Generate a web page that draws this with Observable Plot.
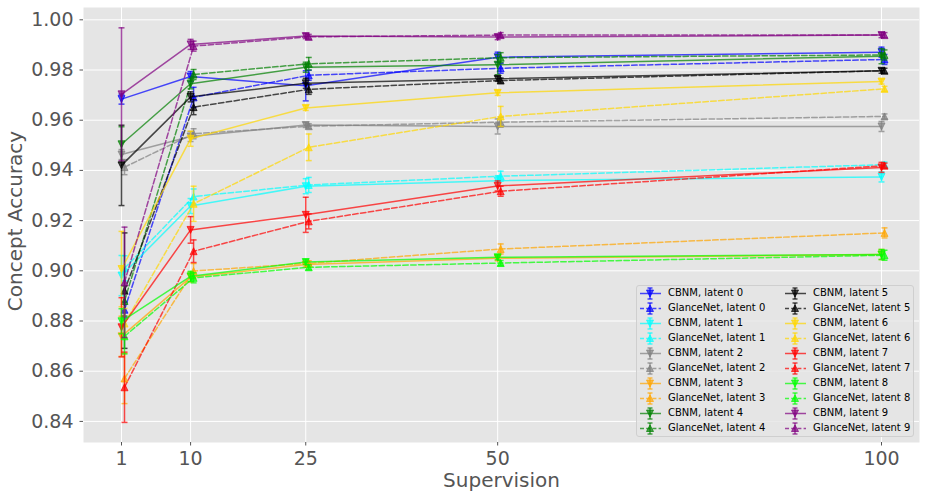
<!DOCTYPE html>
<html><head><meta charset="utf-8">
<script src="https://cdn.jsdelivr.net/npm/d3@7"></script>
<script src="https://cdn.jsdelivr.net/npm/@observablehq/plot@0.6"></script>
<style>
body{margin:0;background:#fff;font-family:"DejaVu Sans",sans-serif;}
#wrap{position:relative;width:926px;height:498px;}
#legend{position:absolute;left:636px;top:285px;width:278px;height:152px;background:rgba(229,229,229,0.8);border:1px solid #cfcfcf;border-radius:3px;box-sizing:border-box;font-size:10px;color:#000;}
.item{position:absolute;height:14px;line-height:14px;white-space:nowrap;}
.item svg{position:absolute;left:0;top:0;}
.item span{position:absolute;top:0;}
</style></head><body><div id="wrap"><div id="legend"></div></div>
<script>
// ---- data ----
const supervision = [1, 10, 25, 50, 100];
const yTicks = [0.84, 0.86, 0.88, 0.90, 0.92, 0.94, 0.96, 0.98, 1.00];
const models = ["CBNM", "GlanceNet"];
const latents = ["latent 0","latent 1","latent 2","latent 3","latent 4","latent 5","latent 6","latent 7","latent 8","latent 9"];
const colors = ["blue","cyan","gray","orange","green","black","gold","red","lime","purple"];

const cbnmAcc = [
  [0.9684, 0.9774, 0.9737, 0.9851, 0.9871],
  [0.8981, 0.9258, 0.9337, 0.9359, 0.9374],
  [0.9463, 0.9535, 0.9581, 0.9575, 0.9575],
  [0.8739, 0.8975, 0.9025, 0.9050, 0.9065],
  [0.9504, 0.9745, 0.9811, 0.9821, 0.9855],
  [0.9420, 0.9693, 0.9747, 0.9765, 0.9797],
  [0.9007, 0.9526, 0.9649, 0.9709, 0.9754],
  [0.8775, 0.9163, 0.9223, 0.9338, 0.9412],
  [0.8799, 0.8978, 0.9035, 0.9054, 0.9065],
  [0.9703, 0.9902, 0.9935, 0.9931, 0.9939]
];
const cbnmErr = [
  [0.002, 0.002, 0.006, 0.002, 0.002],
  [0.008, 0.003, 0.003, 0.002, 0.002],
  [0.002, 0.002, 0.001, 0.003, 0.002],
  [0.008, 0.002, 0.001, 0.001, 0.002],
  [0.007, 0.002, 0.002, 0.004, 0.003],
  [0.016, 0.002, 0.002, 0.001, 0.001],
  [0.015, 0.003, 0.001, 0.001, 0.001],
  [0.0118, 0.0053, 0.007, 0.002, 0.002],
  [0.005, 0.002, 0.001, 0.001, 0.002],
  [0.0265, 0.002, 0.001, 0.001, 0.001]
];
const glanceAcc = [
  [0.8845, 0.9691, 0.9779, 0.9807, 0.9842],
  [0.9010, 0.9296, 0.9342, 0.9377, 0.9423],
  [0.9413, 0.9546, 0.9576, 0.9592, 0.9615],
  [0.8571, 0.8999, 0.9030, 0.9087, 0.9151],
  [0.8880, 0.9782, 0.9825, 0.9849, 0.9860],
  [0.8921, 0.9652, 0.9723, 0.9758, 0.9797],
  [0.8790, 0.9267, 0.9492, 0.9615, 0.9725],
  [0.8536, 0.9078, 0.9197, 0.9317, 0.9419],
  [0.8739, 0.8972, 0.9014, 0.9031, 0.9062],
  [0.8954, 0.9895, 0.9932, 0.9939, 0.9939]
];
const glanceErr = [
  [0.003, 0.004, 0.002, 0.002, 0.002],
  [0.005, 0.003, 0.003, 0.002, 0.001],
  [0.003, 0.002, 0.001, 0.002, 0.001],
  [0.010, 0.003, 0.001, 0.002, 0.002],
  [0.006, 0.002, 0.0025, 0.002, 0.002],
  [0.023, 0.003, 0.002, 0.001, 0.001],
  [0.006, 0.007, 0.0053, 0.004, 0.001],
  [0.014, 0.0045, 0.003, 0.002, 0.001],
  [0.007, 0.002, 0.001, 0.001, 0.002],
  [0.022, 0.002, 0.001, 0.001, 0.001]
];

// ---- symbols ----
const triDown = {draw(ctx, size){ const r = Math.sqrt(size/Math.PI); ctx.moveTo(0, r); ctx.lineTo(-r, -r); ctx.lineTo(r, -r); ctx.closePath(); }};
const triUp = {draw(ctx, size){ const r = Math.sqrt(size/Math.PI); ctx.moveTo(0, -r); ctx.lineTo(-r, r); ctx.lineTo(r, r); ctx.closePath(); }};
const cap = {draw(ctx, size){ const r = Math.sqrt(size/Math.PI); ctx.moveTo(-r, 0); ctx.lineTo(r, 0); }};

const alpha = 0.7;
const marks = [
  Plot.frame({fill: "#E5E5E5"}),
  Plot.ruleX(supervision, {stroke: "white", strokeWidth: 1}),
  Plot.ruleY(yTicks, {stroke: "white", strokeWidth: 1}),
  Plot.axisX(supervision, {tickSize: 3.5, tickPadding: 5, fontSize: 19, stroke: "#555", fill: "#555", label: null}),
  Plot.axisY(yTicks, {tickSize: 3.5, tickPadding: 6.5, fontSize: 19, stroke: "#555", fill: "#555", tickFormat: d3.format(".2f"), label: null}),
  Plot.text(["Concept Accuracy"], {frameAnchor: "left", textAnchor: "middle", rotate: -90, dx: -68, dy: -4, fontSize: 20, fill: "#555"}),
  Plot.text(["Supervision"], {frameAnchor: "bottom", dy: 38, fontSize: 20, fill: "#555", lineAnchor: "middle"})
];

for (let i = 0; i < latents.length; i++) {
  for (const model of models) {
    const acc = model === "CBNM" ? cbnmAcc[i] : glanceAcc[i];
    const err = model === "CBNM" ? cbnmErr[i] : glanceErr[i];
    const d = supervision.map((x, j) => ({x, y: acc[j], e: err[j]}));
    const dx = model === "GlanceNet" ? 3 : 0;
    const c = colors[i];
    marks.push(
      Plot.ruleX(d, {x: "x", y1: r => r.y - r.e, y2: r => r.y + r.e, stroke: c, strokeOpacity: alpha, strokeWidth: 1.5, dx}),
      Plot.dot(d, {x: "x", y: r => r.y + r.e, symbol: cap, r: 3, stroke: c, fill: "none", strokeOpacity: alpha, strokeWidth: 1.5, dx}),
      Plot.dot(d, {x: "x", y: r => r.y - r.e, symbol: cap, r: 3, stroke: c, fill: "none", strokeOpacity: alpha, strokeWidth: 1.5, dx}),
      Plot.line(d, {x: "x", y: "y", stroke: c, strokeOpacity: alpha, strokeWidth: 1.5, strokeDasharray: model === "GlanceNet" ? "5.5,2.4" : "none", dx}),
      Plot.dot(d, {x: "x", y: "y", symbol: model === "GlanceNet" ? triUp : triDown, r: 3.5, fill: c, fillOpacity: alpha, stroke: c, strokeOpacity: alpha, strokeWidth: 1, dx})
    );
  }
}

const chart = Plot.plot({
  width: 926, height: 498,
  marginLeft: 83, marginRight: 7, marginTop: 7, marginBottom: 56,
  style: {fontFamily: "DejaVu Sans", background: "white"},
  x: {domain: [-3.95, 104.95], axis: null},
  y: {domain: [0.8316, 1.0049], axis: null},
  marks
});
document.getElementById("wrap").prepend(chart);

// ---- legend ----
const legend = document.getElementById("legend");
let k = 0;
for (let i = 0; i < latents.length; i++) {
  for (const model of models) {
    const col = k < 10 ? 0 : 1, row = k % 10;
    const left = col === 0 ? 2 : 147;
    const textLeft = col === 0 ? 31 : 176;
    const top = 7.3 + row * 14.93 - 7;
    const c = colors[i];
    const up = model === "GlanceNet";
    const tri = up ? "M11,4 L7.5,10.5 L14.5,10.5 Z" : "M11,11 L7.5,4 L14.5,4 Z";
    const div = document.createElement("div");
    div.className = "item";
    div.style.left = left + "px"; div.style.top = top + "px";
    div.innerHTML = `<svg width="24" height="14"><g stroke="${c}" stroke-opacity="${alpha}" stroke-width="1.5" fill="none">
      <line x1="1" y1="7.5" x2="22" y2="7.5" ${up ? 'stroke-dasharray="4,2.2"' : ''}/>
      <line x1="11" y1="2" x2="11" y2="13"/><line x1="8.5" y1="2" x2="13.5" y2="2"/><line x1="8.5" y1="13" x2="13.5" y2="13"/></g>
      <path d="${tri}" fill="${c}" fill-opacity="${alpha}" stroke="${c}" stroke-opacity="${alpha}"/></svg>
      <span style="left:${textLeft - left}px">${model}, ${latents[i]}</span>`;
    legend.appendChild(div);
    k++;
  }
}
</script></body></html>
